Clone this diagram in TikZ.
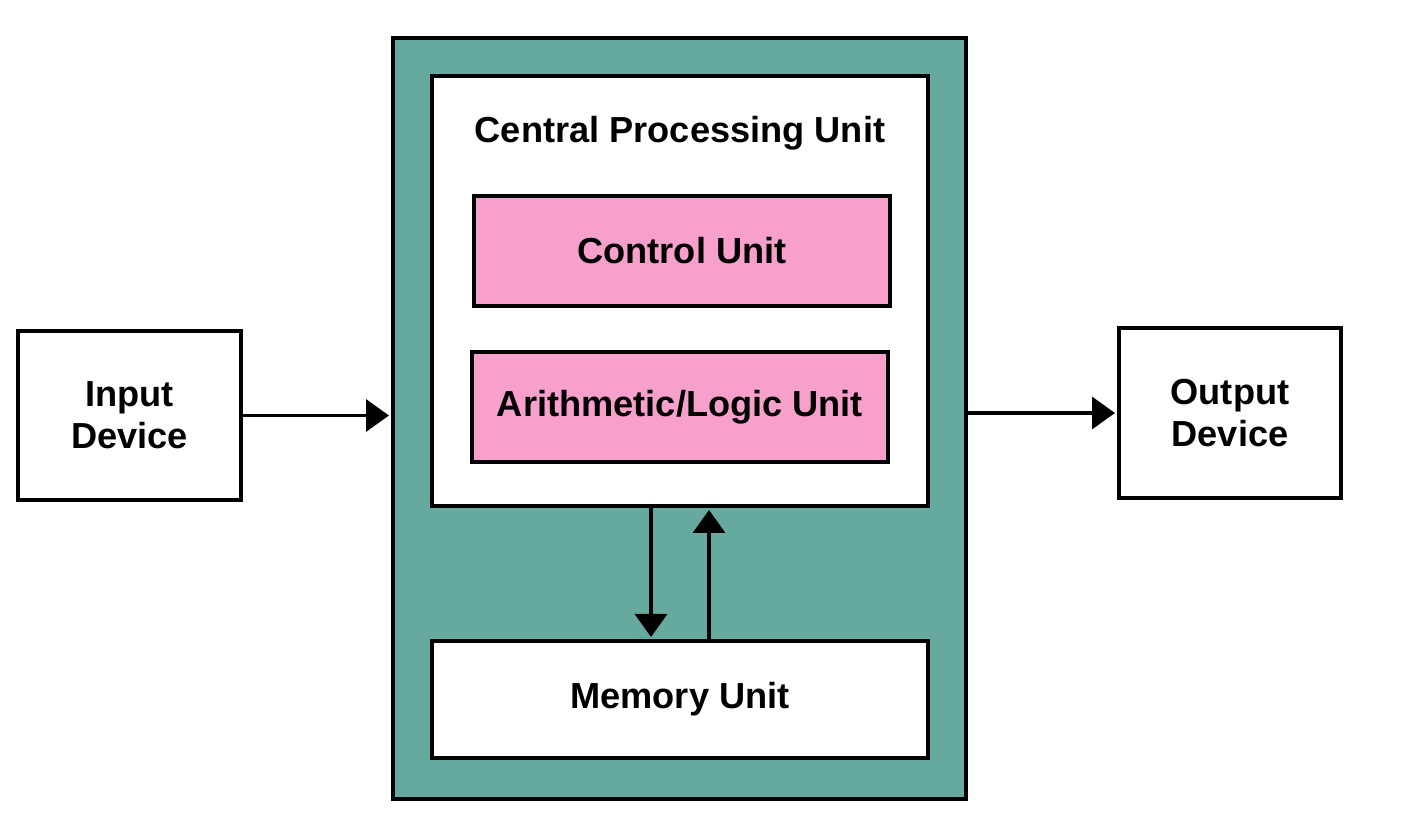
\documentclass[tikz,border=0pt]{standalone}
\usepackage{fontspec}
\setmainfont{Liberation Sans}
\usetikzlibrary{arrows.meta}

\definecolor{cputeal}{HTML}{66A99E}
\definecolor{unitpink}{HTML}{F7A0CB}

\begin{document}
\begin{tikzpicture}[
        box/.style={
            rectangle,
            draw,
            line width=1.15pt,
            fill=white,
            align=center,
            font=\fontsize{10.3}{12}\selectfont\bfseries,
            inner sep=0pt,
            outer sep=0pt
        },
        unit/.style={
            box,
            fill=unitpink,
            minimum width=4.16cm,
            minimum height=1.10cm
        },
        arrow/.style={
            -{Triangle[length=0.23cm,width=0.32cm]},
            line width=1pt,
            shorten >=0.04cm
        }
    ]

        \useasboundingbox (0,0) rectangle (14.12,-8.18);

        \node[box, fill=cputeal, minimum width=5.73cm, minimum height=7.61cm] (sys) at (6.795,-4.185) {};
        \node[box, minimum width=4.96cm, minimum height=4.30cm] (cpu) at (6.80,-2.91) {};
        \node[font=\fontsize{10.3}{12}\selectfont\bfseries] (title) at (6.80,-1.33) {Central Processing Unit};
        \node[unit] (cu) at (6.82,-2.51) {Control Unit};
        \node[unit] (alu) at (6.80,-4.07) {Arithmetic/Logic Unit};
        \node[box, minimum width=4.96cm, minimum height=1.17cm] (mem) at (6.80,-6.995) {Memory Unit};

        \node[box, minimum width=2.23cm, minimum height=1.69cm] (inp) at (1.295,-4.155) {Input\\Device};
        \node[box, minimum width=2.22cm, minimum height=1.70cm] (outp) at (12.30,-4.13) {Output\\Device};

        \draw[arrow] (inp.east) -- (inp.east -| sys.west);
        \draw[arrow] (sys.east |- outp.west) -- (outp.west);
        \draw[arrow] ([xshift=-0.29cm]cpu.south) -- ([xshift=-0.29cm]mem.north);
        \draw[arrow] ([xshift=0.29cm]mem.north) -- ([xshift=0.29cm]cpu.south);

    \end{tikzpicture}
\end{document}
